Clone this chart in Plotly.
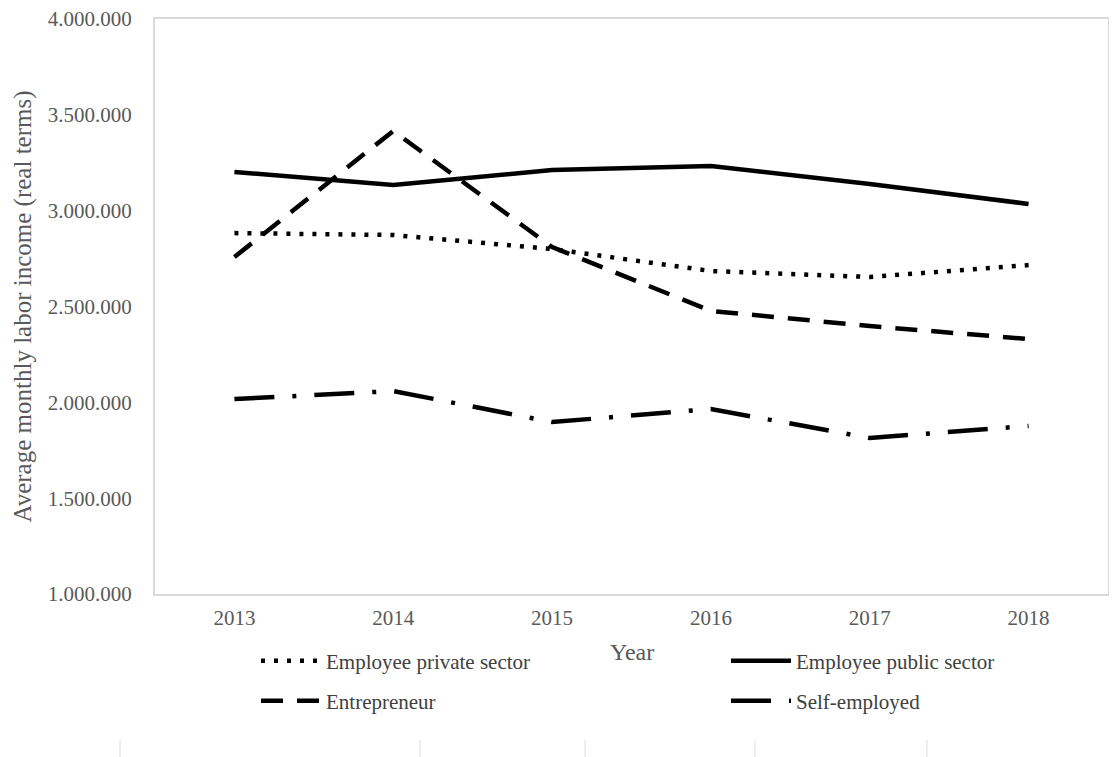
import plotly.graph_objects as go

years = ["2013", "2014", "2015", "2016", "2017", "2018"]
private_sector = [2883000, 2873000, 2800000, 2685000, 2654000, 2716000]
public_sector = [3202000, 3134000, 3212000, 3233000, 3139000, 3035000]
entrepreneur = [2758000, 3416000, 2810000, 2477000, 2398000, 2330000]
self_employed = [2017000, 2059000, 1897000, 1965000, 1814000, 1877000]

FONT = "Liberation Serif"
GRAY = "#595959"
W = 1117
H = 757
# the page has an 8px body margin, so figure coords = screen coords - 8
L, R, T, B = 147, 17, 11, 171
pw = W - L - R
ph = H - T - B

fig = go.Figure()
fig.add_trace(go.Scatter(x=years, y=private_sector, mode="lines", name="Employee private sector",
                         line=dict(color="black", width=4.5, dash="4px,9px"), legend="legend",
                         showlegend=True))
fig.add_trace(go.Scatter(x=years, y=public_sector, mode="lines", name="Employee public sector",
                         line=dict(color="black", width=4.5), legend="legend2", showlegend=True))
fig.add_trace(go.Scatter(x=years, y=entrepreneur, mode="lines", name="Entrepreneur",
                         line=dict(color="black", width=4.5, dash="22px,14px"), legend="legend3",
                         showlegend=True))
fig.add_trace(go.Scatter(x=years, y=self_employed, mode="lines", name="Self-employed",
                         line=dict(color="black", width=4.5, dash="40px,18px,4px,18px"), legend="legend4",
                         showlegend=True))

legend_common = dict(
    orientation="h", xref="container", yref="container", xanchor="left", yanchor="middle",
    bgcolor="rgba(0,0,0,0)", font=dict(family=FONT, size=21, color="#404040"),
    itemwidth=60,
)
col1, col2 = 248 / W, 718 / W
row1, row2 = 1 - 653 / H, 1 - 693 / H

fig.update_layout(
    width=W, height=H,
    showlegend=True,
    margin=dict(l=L, r=R, t=T, b=B, autoexpand=False),
    paper_bgcolor="white", plot_bgcolor="white",
    separators=",.",
    font=dict(family=FONT, size=21, color=GRAY),
    legend=dict(**legend_common, x=col1, y=row1),
    legend2=dict(**legend_common, x=col2, y=row1),
    legend3=dict(**legend_common, x=col1, y=row2),
    legend4=dict(**legend_common, x=col2, y=row2),
    xaxis=dict(
        type="category", range=[-0.5, 5.5], showgrid=False, zeroline=False,
        showline=True, mirror=True, linecolor="#d9d9d9", linewidth=2,
        ticks="", ticklabelstandoff=4,
        tickfont=dict(family=FONT, size=21, color=GRAY),
    ),
    yaxis=dict(
        range=[1000000, 4000000], dtick=500000, tickformat=",d", showgrid=False, zeroline=False,
        showline=True, mirror=True, linecolor="#d9d9d9", linewidth=2,
        ticks="", ticklabelstandoff=17, ticklabeloverflow="allow",
        tickfont=dict(family=FONT, size=21, color=GRAY),
        title=dict(text="Average monthly labor income (real terms)",
                   font=dict(family=FONT, size=25, color=GRAY), standoff=9),
    ),
)

# x-axis title placed below the tick labels, between the legend columns
fig.add_annotation(text="Year", xref="paper", yref="paper", x=0.5, y=(H - B - 11 - 644 + 11) / ph,
                   xanchor="center", yanchor="middle", showarrow=False,
                   font=dict(family=FONT, size=24, color=GRAY))

# faint page artifacts (short vertical rules) at the bottom edge
for px in [112, 412, 577, 747, 919]:
    fig.add_shape(type="line", xref="paper", yref="paper",
                  x0=(px - L) / pw, x1=(px - L) / pw,
                  y0=(H - B - 732) / ph, y1=(H - B - 757) / ph,
                  line=dict(color="#dcdcdc", width=1))

fig.write_html("out.html")
